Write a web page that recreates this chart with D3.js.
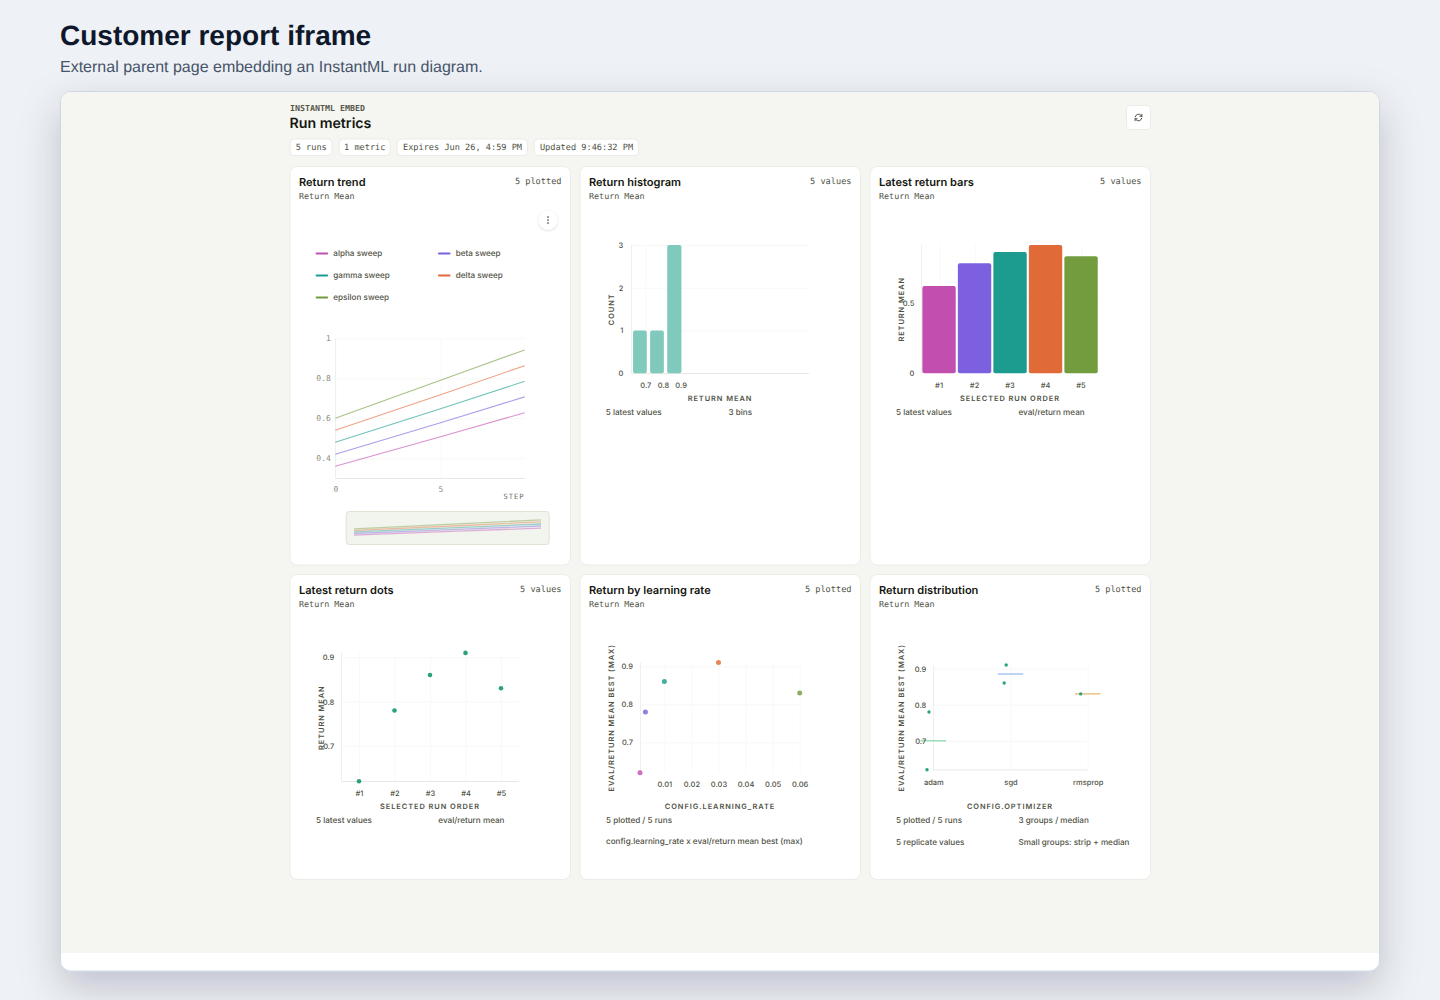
<!DOCTYPE html>
<html>
<head>
<meta charset="utf-8">
<title>Customer report iframe</title>
<script src="https://cdn.jsdelivr.net/npm/d3@7/dist/d3.min.js"></script>
<style>
  html, body { margin: 0; padding: 0; width: 1440px; height: 1000px; overflow: hidden; }
  body { background: #eef1f6; }
  svg { display: block; }
  text { text-rendering: geometricPrecision; }
  .grid .domain { display: none; }
  .grid text { display: none; }
  .grid line { stroke: #f7f7f4; stroke-width: 1; }
  .grid.columns line { stroke: #f9f9f7; }
</style>
</head>
<body>
<svg id="page" width="1440" height="1000"></svg>
<script>
// Run data shown across the report
const runNames = ["alpha sweep", "beta sweep", "gamma sweep", "delta sweep", "epsilon sweep"];
const runColors = ["#c24fb0", "#7c60df", "#1c9c8f", "#e06a38", "#739c3f"];
const runOrder = ["#1", "#2", "#3", "#4", "#5"];
const latestReturns = [0.62, 0.78, 0.86, 0.91, 0.83];

// Return trend, read at steps 0, 5 and 9
const trendSteps = [0, 5, 9];
const alphaTrend = [0.36, 0.508, 0.628];
const betaTrend = [0.42, 0.578, 0.707];
const gammaTrend = [0.48, 0.648, 0.785];
const deltaTrend = [0.54, 0.718, 0.863];
const epsilonTrend = [0.60, 0.79, 0.942];
const trendSeries = [alphaTrend, betaTrend, gammaTrend, deltaTrend, epsilonTrend];

// Histogram bins
const binStarts = [0.63, 0.727, 0.824];
const binEnds = [0.708, 0.805, 0.905];
const binCounts = [1, 1, 3];
const binTicks = [0.7, 0.8, 0.9];

// Learning rate per run
const learningRates = [0.001, 0.003, 0.01, 0.03, 0.06];
const learningRateTicks = [0.01, 0.02, 0.03, 0.04, 0.05, 0.06];

// Distribution by optimizer
const optimizers = ["adam", "sgd", "rmsprop"];
const optimizerMedians = [0.70, 0.885, 0.83];
const medianColors = ["#85d3a6", "#93b7ef", "#e9b266"];
const replicateGroups = ["adam", "adam", "sgd", "sgd", "rmsprop"];
const replicateValues = [0.62, 0.78, 0.86, 0.91, 0.83];
const replicateJitter = [-0.082, -0.056, -0.082, -0.056, -0.091];

const returnTicks = [0.7, 0.8, 0.9];
const chips = ["5 runs", "1 metric", "Expires Jun 26, 4:59 PM", "Updated 9:46:32 PM"];

const INK = "#4f5245", MONO = "'DejaVu Sans Mono', monospace", SANS = "Inter, sans-serif",
      HELV = "'Liberation Sans', sans-serif";
const svg = d3.select("#page");
const defs = svg.append("defs");

const soft = defs.append("filter").attr("id", "frameShadow")
  .attr("x", "-10%").attr("y", "-10%").attr("width", "120%").attr("height", "125%");
soft.append("feDropShadow").attr("dx", 0).attr("dy", 16).attr("stdDeviation", 20)
  .attr("flood-color", "#0f172a").attr("flood-opacity", 0.2);
const lift = defs.append("filter").attr("id", "btnShadow")
  .attr("x", "-40%").attr("y", "-40%").attr("width", "180%").attr("height", "180%");
lift.append("feDropShadow").attr("dx", 0).attr("dy", 1).attr("stdDeviation", 1.5)
  .attr("flood-color", "#000").attr("flood-opacity", 0.14);

function label(g, x, y, str, o = {}) {
  return g.append("text").attr("x", x).attr("y", y).text(str)
    .attr("font-family", o.font || SANS)
    .attr("font-size", o.size || 8)
    .attr("font-weight", o.weight || 400)
    .attr("fill", o.fill || INK)
    .attr("text-anchor", o.anchor || "start")
    .attr("dominant-baseline", "central")
    .attr("letter-spacing", o.spacing || 0);
}

// Parent page heading
label(svg, 60, 35.5, "Customer report iframe", { font: HELV, size: 28, weight: 700, fill: "#0f172a" });
label(svg, 60, 67, "External parent page embedding an InstantML run diagram.", { font: HELV, size: 16, fill: "#475569" });

// Embedded frame
svg.append("rect").attr("x", 60.5).attr("y", 91.5).attr("width", 1319).attr("height", 879.5).attr("rx", 10)
  .attr("fill", "#fff").attr("stroke", "#cdd7e5").attr("filter", "url(#frameShadow)");
defs.append("clipPath").attr("id", "frameClip").append("rect")
  .attr("x", 61).attr("y", 92).attr("width", 1318).attr("height", 879).attr("rx", 10);
svg.append("rect").attr("x", 61).attr("y", 92).attr("width", 1318).attr("height", 861)
  .attr("fill", "#f5f6f1").attr("clip-path", "url(#frameClip)");

// Embed header
label(svg, 290, 108, "INSTANTML EMBED", { font: MONO, size: 8.3, weight: 700, fill: "#55584a" });
label(svg, 289.5, 123, "Run metrics", { size: 14.2, weight: 600, fill: "#15170f" });

const chipBoxes = [[290, 332.5], [339, 390.5], [397, 528], [534, 639]];
chips.forEach((c, i) => {
  const [x0, x1] = chipBoxes[i];
  svg.append("rect").attr("x", x0 + .2).attr("y", 139).attr("width", x1 - x0 - .6).attr("height", 16.5).attr("rx", 4)
    .attr("fill", "#fff").attr("stroke", "#ecece6");
  label(svg, (x0 + x1) / 2, 147.8, c, { font: MONO, size: 8.6, anchor: "middle" });
});

// Refresh button
svg.append("rect").attr("x", 1126.5).attr("y", 105.5).attr("width", 24).attr("height", 24).attr("rx", 4)
  .attr("fill", "#fff").attr("stroke", "#ecece6");
const refresh = svg.append("g").attr("transform", "translate(1138.5,117.5)")
  .attr("fill", "none").attr("stroke", "#44463a").attr("stroke-width", 0.9).attr("stroke-linecap", "round");
refresh.append("path").attr("d", "M-3.3,-0.6 A3.4,3.4 0 0 1 2.7,-2 L3.4,-1.2 M3.4,-3.2 V-1.2 H1.4");
refresh.append("path").attr("d", "M3.3,0.6 A3.4,3.4 0 0 1 -2.7,2 L-3.4,1.2 M-3.4,3.2 V1.2 H-1.4");

// Report cards
const cards = [
  { x: 290, y: 167, h: 398.5, title: "Return trend", note: "5 plotted" },
  { x: 580, y: 167, h: 398.5, title: "Return histogram", note: "5 values" },
  { x: 870, y: 167, h: 398.5, title: "Latest return bars", note: "5 values" },
  { x: 290, y: 575, h: 305, title: "Latest return dots", note: "5 values" },
  { x: 580, y: 575, h: 305, title: "Return by learning rate", note: "5 plotted" },
  { x: 870, y: 575, h: 305, title: "Return distribution", note: "5 plotted" }
];
cards.forEach(c => {
  svg.append("rect").attr("x", c.x).attr("y", c.y - .5).attr("width", 280.5).attr("height", c.h).attr("rx", 7)
    .attr("fill", "#fff").attr("stroke", "#ecece6");
  label(svg, c.x + 9, c.y + 15, c.title, { size: 11.05, weight: 600, fill: "#15170f" });
  label(svg, c.x + 9, c.y + 29, "Return Mean", { font: MONO, size: 8.4 });
  label(svg, c.x + 271.5, c.y + 14.7, c.note, { font: MONO, size: 8.6, anchor: "end" });
});

// Shared axis helpers
function gridY(g, scale, ticks, x0, x1) {
  g.append("g").attr("class", "grid").attr("transform", `translate(${x0},0)`)
    .call(d3.axisLeft(scale).tickValues(ticks).tickSize(-(x1 - x0)));
}
function gridX(g, scale, ticks, y0, y1) {
  g.append("g").attr("class", "grid columns").attr("transform", `translate(0,${y1})`)
    .call(d3.axisBottom(scale).tickValues(ticks).tickSize(-(y1 - y0)));
}
function styleTicks(sel, o = {}) {
  sel.selectAll(".domain").remove();
  sel.selectAll(".tick line").remove();
  sel.selectAll("text")
    .attr("font-family", o.font || SANS).attr("font-size", o.size || 7.5)
    .attr("font-weight", o.weight || 500).attr("fill", o.fill || INK);
}
function axisLeft(g, scale, ticks, x, o = {}) {
  const a = d3.axisLeft(scale).tickValues(ticks).tickSize(0).tickPadding(o.pad === undefined ? 7 : o.pad);
  if (o.format) a.tickFormat(o.format);
  g.append("g").attr("transform", `translate(${x},0)`).call(a).call(styleTicks, o);
}
function axisBottom(g, scale, ticks, y, o = {}) {
  const a = d3.axisBottom(scale).tickSize(0).tickPadding(o.pad === undefined ? 9 : o.pad);
  if (ticks) a.tickValues(ticks);
  if (o.format) a.tickFormat(o.format);
  g.append("g").attr("transform", `translate(0,${y})`).call(a).call(styleTicks, o);
}
function lineAt(g, x0, y0, x1, y1, color = "#e8e9e2") {
  g.append("line").attr("x1", x0).attr("y1", y0).attr("x2", x1).attr("y2", y1).attr("stroke", color);
}
function axisTitleX(g, x, y, str) {
  label(g, x, y, str, { size: 7.4, weight: 600, anchor: "middle", spacing: 0.95 });
}
function axisTitleY(g, x, y, str) {
  label(g, 0, 0, str, { size: 7.4, weight: 600, anchor: "middle", spacing: 0.95 })
    .attr("transform", `translate(${x},${y}) rotate(-90)`);
}
const fmtPlain = d3.format("~g");

// Return trend: legend, line chart and overview strip
(function () {
  const g = svg.append("g");
  const btn = g.append("g").attr("transform", "translate(548,220)");
  btn.append("circle").attr("r", 9.5).attr("fill", "#fff").attr("filter", "url(#btnShadow)");
  [-3, 0, 3].forEach(d => btn.append("circle").attr("cy", d).attr("r", 0.85).attr("fill", "#44463a"));

  const legendX = d3.scalePoint().domain([0, 1]).range([316.6, 439]);
  const legendY = d3.scalePoint().domain([0, 1, 2]).range([253, 297]);
  runNames.forEach((name, i) => {
    const lx = legendX(i % 2), ly = legendY(Math.floor(i / 2));
    g.append("line").attr("x1", lx).attr("x2", lx + 10.5).attr("y1", ly + .5).attr("y2", ly + .5)
      .attr("stroke", runColors[i]).attr("stroke-width", 2.1).attr("stroke-linecap", "round");
    label(g, lx + 16.7, ly, name, { size: 8.15, weight: 500 });
  });

  const x = d3.scaleLinear().domain([0, 9]).range([335.3, 524.7]);
  const y = d3.scaleLinear().domain([0.3, 1]).range([478.3, 338.3]);
  gridY(g, y, [0.4, 0.6, 0.8, 1], 335.3, 524.7);
  gridX(g, x, [0, 5], 338.3, 478.3);
  lineAt(g, 335.3, 478.5, 524.7, 478.5);
  lineAt(g, 335.5, 338.3, 335.5, 478.3, "#f0f0eb");
  const mono = { font: MONO, size: 8, weight: 400, fill: "#8b8d80" };
  axisLeft(g, y, [0.4, 0.6, 0.8, 1], 335.3, { ...mono, pad: 4.5, format: fmtPlain });
  axisBottom(g, x, [0, 5], 478.3, { ...mono, pad: 8, format: fmtPlain });
  label(g, 524.7, 496.3, "STEP", { font: MONO, size: 7.2, anchor: "end", spacing: 1, fill: "#6f7165" });

  const line = d3.line().x((d, i) => x(trendSteps[i])).y(d => y(d));
  g.selectAll(".trend").data(trendSeries).join("path").attr("class", "trend")
    .attr("d", line).attr("fill", "none").attr("stroke-opacity", 0.62).attr("stroke-width", 1.1)
    .attr("stroke", (d, i) => runColors[i]);

  g.append("rect").attr("x", 346.2).attr("y", 511.5).attr("width", 203).attr("height", 33).attr("rx", 3)
    .attr("fill", "#f2f5ee").attr("stroke", "#dfe2d7");
  const mx = d3.scaleLinear().domain([0, 9]).range([354, 541]);
  const my = d3.scaleLinear().domain([0.3, 1]).range([536.6, 518.4]);
  const overview = d3.line().x((d, i) => mx(trendSteps[i])).y(d => my(d));
  g.selectAll(".overview").data(trendSeries).join("path").attr("class", "overview")
    .attr("d", overview).attr("fill", "none").attr("stroke-opacity", 0.42).attr("stroke-width", 1.3)
    .attr("stroke", (d, i) => runColors[i]);
})();

// Return histogram
(function () {
  const g = svg.append("g");
  const x = d3.scaleLinear().domain([0.62, 1.63]).range([631.3, 809]);
  const y = d3.scaleLinear().domain([0, 3]).range([373.3, 245]);
  gridY(g, y, [1, 2, 3], 631.3, 809);
  gridX(g, x, binTicks.slice(0, 1), 245, 373.3);
  lineAt(g, 631.3, 373.5, 809, 373.5);
  lineAt(g, 631.5, 245, 631.5, 373.3, "#f0f0eb");
  g.selectAll(".bin").data(binCounts).join("rect").attr("class", "bin")
    .attr("x", (d, i) => x(binStarts[i])).attr("width", (d, i) => x(binEnds[i]) - x(binStarts[i]))
    .attr("y", d => y(d)).attr("height", d => y(0) - y(d)).attr("rx", 2)
    .attr("fill", "#80c9bd");
  axisLeft(g, y, [0, 1, 2, 3], 631.3, { pad: 8, format: d3.format("d") });
  axisBottom(g, x, binTicks, 373.3, { format: d3.format(".1f") });
  axisTitleX(g, 720, 398, "RETURN MEAN");
  axisTitleY(g, 611.7, 309.3, "COUNT");
  label(g, 605.7, 412, "5 latest values", { size: 8.15, weight: 500 });
  label(g, 728.5, 412, "3 bins", { size: 8.15, weight: 500 });
})();

// Latest return bars
(function () {
  const g = svg.append("g");
  const x = d3.scaleBand().domain(runOrder).range([921.3, 1098.8]).paddingInner(0.06).paddingOuter(0.03);
  const y = d3.scaleLinear().domain([0, 0.91]).range([373.3, 245]);
  gridY(g, y, [0.5], 921.3, 1098.8);
  gridX(g, d3.scalePoint().domain(runOrder).range([939.3, 1081.3]), runOrder, 245, 373.3);
  lineAt(g, 921.5, 245, 921.5, 373.3, "#f0f0eb");
  g.selectAll(".bar").data(latestReturns).join("rect").attr("class", "bar")
    .attr("x", (d, i) => x(runOrder[i])).attr("width", x.bandwidth())
    .attr("y", d => y(d)).attr("height", d => y(0) - y(d)).attr("rx", 2)
    .attr("fill", (d, i) => runColors[i]);
  axisLeft(g, y, [0, 0.5], 921.3, { format: fmtPlain });
  axisBottom(g, x, runOrder, 373.3);
  axisTitleX(g, 1010, 398, "SELECTED RUN ORDER");
  axisTitleY(g, 901.7, 309.3, "RETURN MEAN");
  label(g, 896, 412, "5 latest values", { size: 8.15, weight: 500 });
  label(g, 1018.5, 412, "eval/return mean", { size: 8.15, weight: 500 });
})();

// Latest return dots
(function () {
  const g = svg.append("g");
  const x = d3.scalePoint().domain(runOrder).range([359, 501]);
  const y = d3.scaleLinear().domain([0.62, 0.91]).range([781.3, 652.9]);
  gridY(g, y, returnTicks, 341.3, 519);
  gridX(g, x, runOrder, 653, 781.3);
  lineAt(g, 341.3, 781.5, 519, 781.5);
  lineAt(g, 341.5, 653, 341.5, 781.3, "#f0f0eb");
  g.selectAll(".dot").data(latestReturns).join("circle").attr("class", "dot")
    .attr("cx", (d, i) => x(runOrder[i])).attr("cy", d => y(d)).attr("r", 2.3)
    .attr("fill", "#2aa37a");
  axisLeft(g, y, returnTicks, 341.3, { format: d3.format(".1f") });
  axisBottom(g, x, runOrder, 781.3);
  axisTitleX(g, 430, 806.3, "SELECTED RUN ORDER");
  axisTitleY(g, 321.7, 717.7, "RETURN MEAN");
  label(g, 316, 820, "5 latest values", { size: 8.15, weight: 500 });
  label(g, 438.3, 820, "eval/return mean", { size: 8.15, weight: 500 });
})();

// Return by learning rate
(function () {
  const g = svg.append("g");
  const x = d3.scaleLinear().domain([0.001, 0.06]).range([640, 799.7]);
  const y = d3.scaleLinear().domain([0.62, 0.91]).range([772.7, 662.5]);
  gridY(g, y, returnTicks, 640, 800);
  gridX(g, x, learningRateTicks, 662.5, 772.7);
  lineAt(g, 640.5, 662.5, 640.5, 772.7, "#f0f0eb");
  g.selectAll(".lr").data(latestReturns).join("circle").attr("class", "lr")
    .attr("cx", (d, i) => x(learningRates[i])).attr("cy", d => y(d)).attr("r", 2.5)
    .attr("fill", (d, i) => runColors[i]).attr("fill-opacity", 0.82);
  axisLeft(g, y, returnTicks, 640, { format: d3.format(".1f") });
  axisBottom(g, x, learningRateTicks, 772.7, { pad: 8.5, format: d3.format(".2f") });
  axisTitleX(g, 720, 806.3, "CONFIG.LEARNING_RATE");
  axisTitleY(g, 611.7, 717.7, "EVAL/RETURN MEAN BEST (MAX)");
  label(g, 606, 820, "5 plotted / 5 runs", { size: 8.15, weight: 500 });
  label(g, 606, 841.3, "config.learning_rate x eval/return mean best (max)", { size: 8.15, weight: 500 });
})();

// Return distribution by optimizer
(function () {
  const g = svg.append("g");
  const x = d3.scalePoint().domain(optimizers).range([933.3, 1087.7]);
  const y = d3.scaleLinear().domain([0.62, 0.91]).range([769.7, 665]);
  const spread = d3.scaleLinear().domain([-1, 1]).range([-77, 77]);
  gridY(g, y, returnTicks, 933.3, 1087.7);
  gridX(g, x, optimizers, 665, 769.7);
  lineAt(g, 933.3, 769.9, 1087.7, 769.9);
  lineAt(g, 933.5, 665, 933.5, 769.7, "#f0f0eb");
  g.selectAll(".median").data(optimizerMedians).join("line").attr("class", "median")
    .attr("x1", (d, i) => x(optimizers[i]) - 12.8).attr("x2", (d, i) => x(optimizers[i]) + 12.8)
    .attr("y1", d => y(d)).attr("y2", d => y(d))
    .attr("stroke", (d, i) => medianColors[i]).attr("stroke-width", 1.2);
  g.selectAll(".rep").data(replicateValues).join("circle").attr("class", "rep")
    .attr("cx", (d, i) => x(replicateGroups[i]) + spread(replicateJitter[i]))
    .attr("cy", d => y(d)).attr("r", 1.7).attr("fill", "#2aa37a");
  axisLeft(g, y, returnTicks, 933.3, { format: d3.format(".1f") });
  axisBottom(g, x, optimizers, 769.7, { pad: 9.5 });
  axisTitleX(g, 1010, 806.3, "CONFIG.OPTIMIZER");
  axisTitleY(g, 901.7, 717.7, "EVAL/RETURN MEAN BEST (MAX)");
  label(g, 896, 820, "5 plotted / 5 runs", { size: 8.15, weight: 500 });
  label(g, 1018.5, 820, "3 groups / median", { size: 8.15, weight: 500 });
  label(g, 896, 842, "5 replicate values", { size: 8.15, weight: 500 });
  label(g, 1018.5, 842, "Small groups: strip + median", { size: 8.15, weight: 500 });
})();
</script>
</body>
</html>
